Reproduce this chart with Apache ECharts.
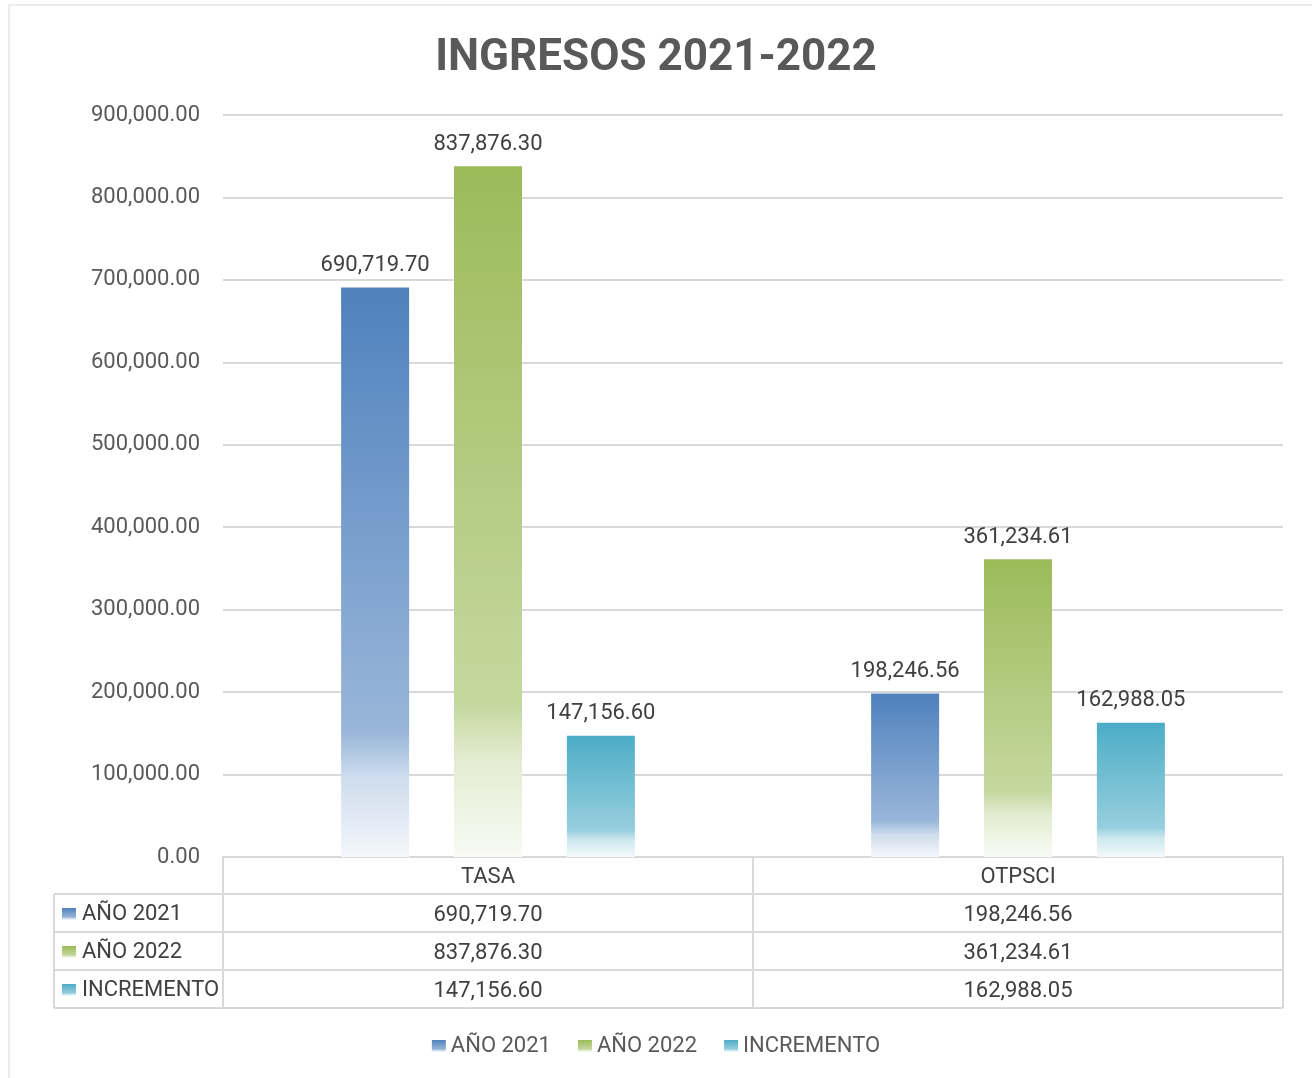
<!DOCTYPE html>
<html>
<head>
<meta charset="utf-8">
<title>INGRESOS 2021-2022</title>
<script src="https://cdn.jsdelivr.net/npm/echarts@6/dist/echarts.min.js"></script>
<style>
  html, body { margin: 0; padding: 0; background: #fff; }
  #main { width: 1312px; height: 1078px; }
</style>
</head>
<body>
<div id="main"></div>
<script>
// datos
var categories = ['TASA', 'OTPSCI'];
var seriesNames = ['AÑO 2021', 'AÑO 2022', 'INCREMENTO'];
var ano2021 = [690719.70, 198246.56];
var ano2022 = [837876.30, 361234.61];
var incremento = [147156.60, 162988.05];
var yTicks = [0, 100000, 200000, 300000, 400000, 500000, 600000, 700000, 800000, 900000];

var FONT = 'Roboto, "Open Sans", sans-serif';
var colors = ['#4f81bd', '#9bbb59', '#4bacc6'];
var seriesData = [ano2021, ano2022, incremento];

function fmt(v) {
    return v.toLocaleString('en-US', { minimumFractionDigits: 2, maximumFractionDigits: 2 });
}

function tint(hex, t) {
    // mezcla con blanco
    var r = parseInt(hex.substr(1, 2), 16), g = parseInt(hex.substr(3, 2), 16), b = parseInt(hex.substr(5, 2), 16);
    r = Math.round(r + (255 - r) * t); g = Math.round(g + (255 - g) * t); b = Math.round(b + (255 - b) * t);
    return 'rgb(' + r + ',' + g + ',' + b + ')';
}

function grad(hex) {
    return new echarts.graphic.LinearGradient(0, 0, 0, 1, [
        { offset: 0, color: hex },
        { offset: 0.78, color: tint(hex, 0.42) },
        { offset: 0.86, color: tint(hex, 0.72) },
        { offset: 1, color: tint(hex, 0.94) }
    ]);
}

var gridLeft = 223, gridRight = 29, gridTop = 115, gridBottom = 221;
var plotBottom = 1078 - gridBottom;
var rowH = 38;
var tableLeft = 54, tableRight = 1312 - gridRight;

var chart = echarts.init(document.getElementById('main'));

// tabla de datos (líneas y etiquetas de fila)
var graphics = [
    { type: 'rect', shape: { x: 9, y: 5, width: 1320, height: 1090 }, style: { fill: 'none', stroke: '#d9d9d9', lineWidth: 1 }, silent: true }
];
for (var i = 1; i <= 4; i++) {
    var y = plotBottom + 37 + (i - 1) * rowH;
    graphics.push({ type: 'line', shape: { x1: tableLeft, y1: y, x2: tableRight, y2: y }, style: { stroke: '#d9d9d9', lineWidth: 2 }, silent: true });
}
graphics.push({ type: 'line', shape: { x1: tableLeft, y1: plotBottom + 37, x2: tableLeft, y2: plotBottom + 37 + 3 * rowH }, style: { stroke: '#d9d9d9', lineWidth: 2 }, silent: true });
graphics.push({ type: 'line', shape: { x1: gridLeft, y1: plotBottom, x2: gridLeft, y2: plotBottom + 37 + 3 * rowH }, style: { stroke: '#d9d9d9', lineWidth: 2 }, silent: true });
seriesNames.forEach(function (name, k) {
    var cy = plotBottom + 37 + k * rowH + rowH / 2 + 1;
    graphics.push({ type: 'rect', shape: { x: 62, y: cy - 6, width: 14, height: 12 }, style: { fill: grad(colors[k]) }, silent: true });
    graphics.push({ type: 'text', x: 82, y: cy, style: { text: name, font: '22px ' + FONT, fill: '#404040', textVerticalAlign: 'middle', verticalAlign: 'middle' }, silent: true });
});

chart.setOption({
    animation: false,
    textStyle: { fontFamily: FONT },
    title: {
        text: 'INGRESOS 2021-2022',
        left: 'center',
        top: 32,
        textStyle: { fontSize: 44, fontWeight: 'bold', color: '#595959', fontFamily: FONT }
    },
    legend: {
        data: seriesNames,
        bottom: 16,
        left: 'center',
        itemWidth: 14,
        itemHeight: 12,
        itemGap: 27,
        icon: 'rect',
        textStyle: { fontSize: 22, color: '#595959', fontFamily: FONT }
    },
    grid: { left: gridLeft, right: gridRight, top: gridTop, bottom: gridBottom },
    xAxis: {
        type: 'category',
        data: categories,
        axisLine: { lineStyle: { color: '#d9d9d9', width: 2 } },
        axisTick: { show: true, alignWithLabel: false, interval: 0, length: 37 + 3 * rowH, lineStyle: { color: '#d9d9d9', width: 2 } },
        axisLabel: {
            interval: 0,
            margin: 2,
            formatter: function (v, idx) {
                var lines = ['{h|' + v + '}'];
                seriesData.forEach(function (arr) { lines.push('{c|' + fmt(arr[idx]) + '}'); });
                return lines.join('\n');
            },
            rich: {
                h: { fontSize: 22, color: '#404040', lineHeight: 37, fontFamily: FONT },
                c: { fontSize: 22, color: '#404040', lineHeight: rowH, fontFamily: FONT }
            }
        }
    },
    yAxis: {
        type: 'value',
        min: yTicks[0],
        max: yTicks[yTicks.length - 1],
        interval: yTicks[1] - yTicks[0],
        axisLine: { show: false },
        axisTick: { show: false },
        axisLabel: { margin: 23, fontSize: 22, color: '#595959', fontFamily: FONT, formatter: function (v) { return fmt(v); } },
        splitLine: { lineStyle: { color: '#d9d9d9', width: 2 } }
    },
    series: seriesNames.map(function (name, k) {
        return {
            type: 'bar',
            name: name,
            data: seriesData[k],
            barWidth: 68,
            barGap: '66%',
            itemStyle: { color: grad(colors[k]) },
            label: {
                show: true,
                position: 'top',
                distance: 11,
                fontSize: 22,
                color: '#404040',
                fontFamily: FONT,
                formatter: function (p) { return fmt(p.value); }
            }
        };
    }),
    graphic: graphics
});
window.addEventListener('resize', function () { chart.resize(); });
</script>
</body>
</html>
